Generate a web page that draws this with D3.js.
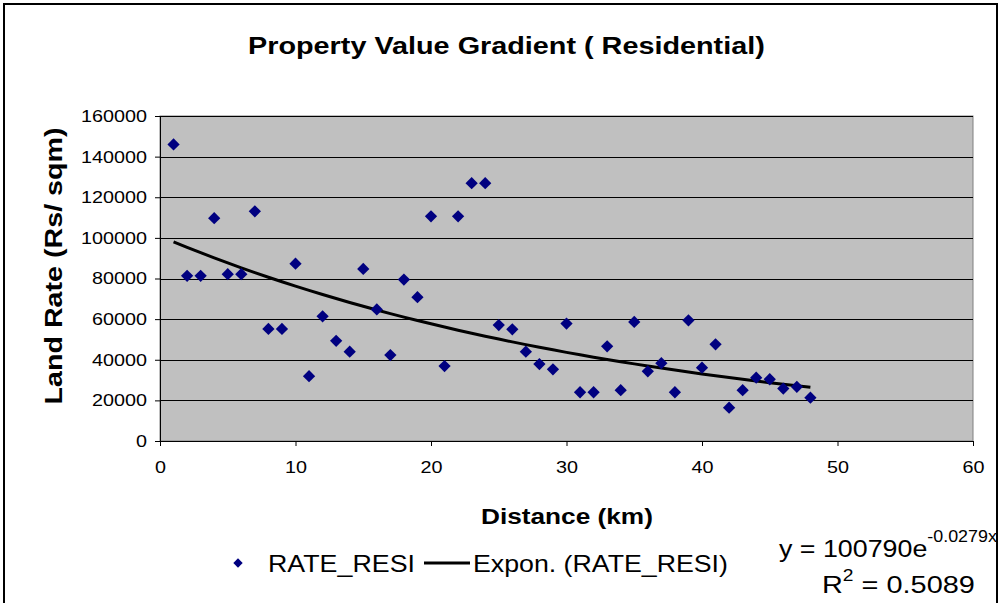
<!DOCTYPE html>
<html>
<head>
<meta charset="utf-8">
<script src="https://cdn.jsdelivr.net/npm/d3@7"></script>
<style>
  body { margin: 0; background: #fff; }
  text { font-family: "Liberation Sans", Arial, sans-serif; fill: #000; }
</style>
</head>
<body>
<div id="chart"></div>
<script>
// distance (km) and residential land rate (Rs/sqm)
var distance = [1,2,3,4,5,6,7,8,9,10,11,12,13,14,15,16,17,18,19,20,21,22,23,24,
                25,26,27,28,29,30,31,32,33,34,35,36,37,38,39,40,41,42,43,44,45,46,47,48];
var rate = [146000,81300,81300,109700,82100,82100,113100,55200,55200,87300,31900,61400,49300,44000,84700,64800,
            42300,79500,70800,110600,36900,110600,126900,126900,57100,55000,44000,37900,35300,57800,24000,24000,
            46600,25000,58600,34300,38300,24000,59400,36100,47600,16400,25000,31200,30400,25800,26700,21300];
// exponential trend as printed on the chart
var trendA = 100790, trendB = -0.0279, trendR2 = "0.5089";
var yTicks = [0,20000,40000,60000,80000,100000,120000,140000,160000];
var xTicks = [0,10,20,30,40,50,60];

var W = 999, H = 603;
var margin = {top: 116, left: 160, right: 26, bottom: 162},
    width  = W - margin.left - margin.right,
    height = H - margin.top - margin.bottom;

var svg = d3.select("#chart").append("svg")
    .attr("width", W).attr("height", H);

// the source picture is stretched sideways, so text gets squeezed to its measured span
function fit(sel, left, right) {
  var b = sel.node().getBBox();
  var s = (right - left) / b.width;
  sel.attr("transform", "translate(" + left + ",0) scale(" + s + ",1) translate(" + (-b.x) + ",0)");
}

// outer chart frame
svg.append("rect")
    .attr("x", 4).attr("y", 4)
    .attr("width", 993).attr("height", 620)
    .attr("fill", "#fff").attr("stroke", "#000").attr("stroke-width", 2);

var x = d3.scaleLinear().domain([0, 60]).range([0, width]),
    y = d3.scaleLinear().domain([0, 160000]).range([height, 0]);

var g = svg.append("g").attr("transform", "translate(" + margin.left + "," + margin.top + ")");

g.append("rect")
    .attr("width", width).attr("height", height)
    .attr("fill", "#c0c0c0").attr("stroke", "#808080").attr("stroke-width", 1);

// gridlines
g.selectAll(".grid").data(yTicks.slice(1))
  .enter().append("line")
    .attr("x1", 0).attr("x2", width)
    .attr("y1", function(d) { return Math.round(y(d)) + 0.5; })
    .attr("y2", function(d) { return Math.round(y(d)) + 0.5; })
    .attr("stroke", "#000").attr("stroke-width", 1);

g.append("g")
    .attr("class", "axis axis--y")
    .call(d3.axisLeft(y).tickValues(yTicks).tickFormat(d3.format("d")).tickSize(5).tickSizeOuter(0).tickPadding(8));
g.append("g")
    .attr("class", "axis axis--x")
    .attr("transform", "translate(0," + height + ")")
    .call(d3.axisBottom(x).tickValues(xTicks).tickSize(5).tickSizeOuter(0).tickPadding(15));

svg.selectAll(".axis path, .axis line").attr("stroke", "#000");
svg.selectAll(".axis text")
    .attr("font-family", "Liberation Sans, Arial, sans-serif")
    .attr("font-size", 17)
    .attr("lengthAdjust", "spacingAndGlyphs")
    .attr("textLength", function() { return this.textContent.length * 11; });

// trend line
var line = d3.line()
    .x(function(d) { return x(d); })
    .y(function(d) { return y(trendA * Math.exp(trendB * d)); });

g.append("path")
    .datum(distance)
    .attr("fill", "none")
    .attr("stroke", "#000")
    .attr("stroke-width", 3)
    .attr("d", line);

// points
var diamond = d3.symbol().type(d3.symbolDiamond2).size(96);
g.selectAll(".pt").data(distance)
  .enter().append("path")
    .attr("class", "pt")
    .attr("transform", function(d, i) { return "translate(" + x(d) + "," + y(rate[i]) + ")"; })
    .attr("d", diamond)
    .attr("fill", "#000080");

// titles
var title = svg.append("text")
    .attr("y", 54)
    .attr("font-size", 24).attr("font-weight", "bold")
    .text("Property Value Gradient ( Residential)");
fit(title, 248, 765);

svg.append("text")
    .attr("transform", "translate(62,266) rotate(-90)")
    .attr("text-anchor", "middle")
    .attr("font-size", 24).attr("font-weight", "bold")
    .attr("lengthAdjust", "spacingAndGlyphs").attr("textLength", 277)
    .text("Land Rate (Rs/ sqm)");

var xTitle = svg.append("text")
    .attr("y", 524)
    .attr("font-size", 22).attr("font-weight", "bold")
    .text("Distance (km)");
fit(xTitle, 481, 653);

// legend
svg.append("path")
    .attr("transform", "translate(238,563)")
    .attr("d", d3.symbol().type(d3.symbolDiamond2).size(56))
    .attr("fill", "#000080");
fit(svg.append("text").attr("y", 572).attr("font-size", 24).text("RATE_RESI"), 268, 415);
svg.append("line")
    .attr("x1", 424).attr("x2", 470).attr("y1", 563).attr("y2", 563)
    .attr("stroke", "#000").attr("stroke-width", 3);
fit(svg.append("text").attr("y", 572).attr("font-size", 24).text("Expon. (RATE_RESI)"), 473, 728);

// trend equation
var eq = svg.append("text").attr("y", 557).attr("font-size", 24);
eq.append("tspan").text("y = " + trendA + "e");
eq.append("tspan").attr("dy", -15).attr("font-size", 16).text(trendB + "x");
fit(eq, 779, 997);
var r2 = svg.append("text").attr("y", 593).attr("font-size", 24);
r2.append("tspan").text("R");
r2.append("tspan").attr("dy", -12).attr("font-size", 16).text("2");
r2.append("tspan").attr("dy", 12).text(" = " + trendR2);
fit(r2, 822, 975);
</script>
</body>
</html>
